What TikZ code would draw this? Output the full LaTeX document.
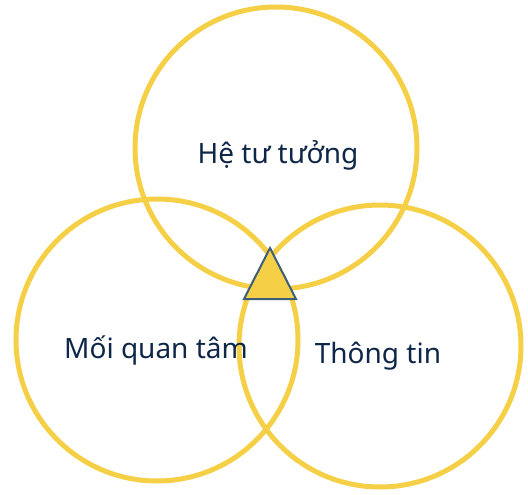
\documentclass[tikz,border=0pt]{standalone}
\usepackage{fontspec}
\setmainfont{Noto Sans}
\usepackage{xcolor}
\usepackage{tikz}
\usetikzlibrary{positioning}

\definecolor{vang}{HTML}{F5CF45}
\definecolor{chu}{HTML}{0E2748}
\definecolor{vien}{HTML}{3D6078}

\begin{document}
\begin{tikzpicture}[
        x=1pt, y=-1pt,
        every node/.style={align=center, font=\fontsize{28}{33}\selectfont, text=chu},
        vong/.style={draw=vang, line width=5pt, circle, minimum size=282pt, inner sep=0pt},
        nhan/.style={anchor=base},
        tamgiac/.style={draw=vien, fill=vang, line width=2pt, line join=miter}
    ]
        \useasboundingbox (0,0) rectangle (528,495);
        % ba vong tron
        \node[vong] (tuong) at (276,148) {};
        \node[vong] (quantam) at (157,340) {};
        \node[vong] (thongtin) at (380,346) {};
        % nhan
        \node[nhan] (lbtuong) at (278,164) {Hệ tư tưởng};
        \node[nhan] (lbquantam) at (156,358) {Mối quan tâm};
        \node[nhan] (lbthongtin) at (378,363) {Thông tin};
        % tam giac o giua
        \coordinate (dinh) at (270,248);
        \coordinate (trai) at (244,299);
        \coordinate (phai) at (296,299);
        \draw[tamgiac] (dinh) -- (phai) -- (trai) -- cycle;
    \end{tikzpicture}
\end{document}
